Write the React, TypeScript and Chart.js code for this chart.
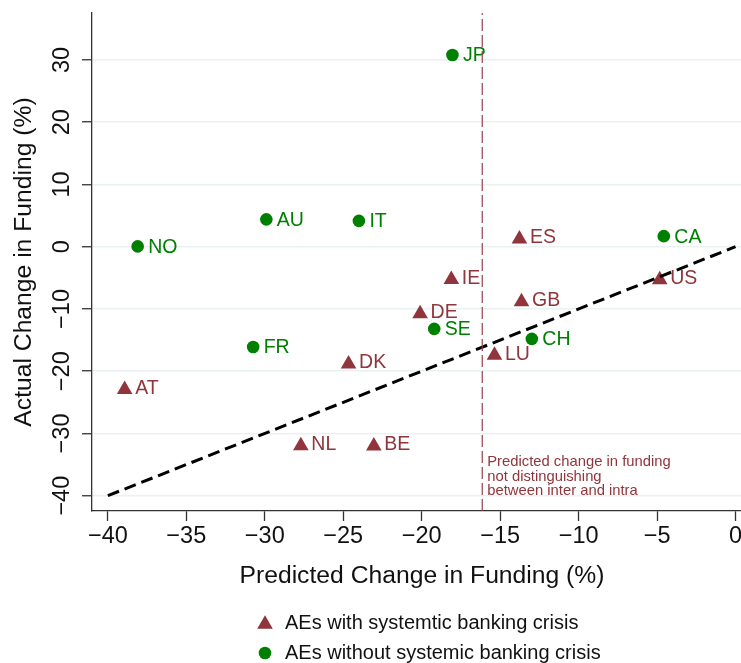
import React, { useEffect, useRef } from "react";
import { Chart, registerables } from "chart.js";

Chart.register(...registerables);

// ---- data ----
const crisisNames = ["ES", "IE", "US", "GB", "DE", "LU", "DK", "AT", "NL", "BE"];
const crisisX = [-13.77, -18.11, -4.83, -13.64, -20.1, -15.36, -24.66, -38.93, -27.7, -23.05];
const crisisY = [1.25, -5.25, -5.3, -8.85, -10.75, -17.45, -18.86, -22.95, -31.98, -32.0];

const noCrisisNames = ["JP", "AU", "IT", "NO", "CA", "SE", "CH", "FR"];
const noCrisisX = [-18.04, -29.9, -24.0, -38.1, -4.57, -19.2, -12.98, -30.74];
const noCrisisY = [30.8, 4.4, 4.15, 0.05, 1.7, -13.2, -14.8, -16.1];

const diagX = [-40, 0];
const diagY = [-40, 0];
const cutoffX = -16.14;

const xTicks = [-40, -35, -30, -25, -20, -15, -10, -5, 0];
const yTicks = [-40, -30, -20, -10, 0, 10, 20, 30];
const xRange = [-41.01, 0.35];
const yRange = [-42.46, 37.55];

const seriesLabels = ["AEs with systemtic banking crisis", "AEs without systemic banking crisis"];
const noteLines = ["Predicted change in funding", "not distinguishing", "between inter and intra"];
const noteY = -34.64;
const xTitle = "Predicted Change in Funding (%)";
const yTitle = "Actual Change in Funding (%)";

// ---- styles ----
const FONT = '"Liberation Sans", Arial, Helvetica, sans-serif';
const MAROON = "#90353B";
const GREEN = "#008000";
const AXIS = "#333333";
const GRID = "#EAF1F3";

const fmt = (v: number) => (v < 0 ? "\u2212" + Math.abs(v) : String(v));

const textPlugin = {
  id: "customTexts",
  beforeDatasetsDraw(chart: any) {
    const ctx = chart.ctx;
    const xs = chart.scales.x;
    const ys = chart.scales.y;
    ctx.save();
    ctx.font = `19.5px ${FONT}`;
    ctx.textAlign = "left";
    ctx.textBaseline = "middle";
    [0, 1].forEach((di) => {
      const ds = chart.data.datasets[di];
      ctx.fillStyle = ds.backgroundColor;
      const dy = di === 0 ? -1 : 1;
      ds.data.forEach((p: any) => {
        ctx.fillText(p.name, xs.getPixelForValue(p.x) + 10.5, ys.getPixelForValue(p.y) + dy);
      });
    });
    // note next to cutoff line
    ctx.font = `14.8px ${FONT}`;
    ctx.fillStyle = MAROON;
    const nx = xs.getPixelForValue(cutoffX) + 5;
    const ny = ys.getPixelForValue(noteY);
    noteLines.forEach((t, i) => ctx.fillText(t, nx, ny + i * 14.5));
    ctx.restore();
  },
  afterDraw(chart: any) {
    const ctx = chart.ctx;
    const xs = chart.scales.x;
    const ys = chart.scales.y;
    const area = chart.chartArea;
    ctx.save();
    ctx.fillStyle = "#111";
    // x tick labels
    ctx.font = `23.5px ${FONT}`;
    ctx.textAlign = "center";
    ctx.textBaseline = "middle";
    xTicks.forEach((v) => ctx.fillText(fmt(v), xs.getPixelForValue(v), area.bottom + 26));
    // y tick labels (rotated)
    yTicks.forEach((v) => {
      ctx.save();
      ctx.translate(62.5, ys.getPixelForValue(v));
      ctx.rotate(-Math.PI / 2);
      ctx.fillText(fmt(v), 0, 0);
      ctx.restore();
    });
    // axis titles
    ctx.font = `24.7px ${FONT}`;
    ctx.fillText(xTitle, 422, area.bottom + 65);
    ctx.save();
    ctx.translate(24, (area.top + area.bottom) / 2);
    ctx.rotate(-Math.PI / 2);
    ctx.fillText(yTitle, 0, 0);
    ctx.restore();
    // legend
    ctx.font = `20px ${FONT}`;
    ctx.textAlign = "left";
    const lx = 265;
    const rows = [623, 653];
    const r = 9;
    ctx.fillStyle = MAROON;
    ctx.beginPath();
    ctx.moveTo(lx, rows[0] - r * 0.75 - 1);
    ctx.lineTo(lx + r * 0.866, rows[0] + r * 0.75 - 1);
    ctx.lineTo(lx - r * 0.866, rows[0] + r * 0.75 - 1);
    ctx.closePath();
    ctx.fill();
    ctx.fillStyle = GREEN;
    ctx.beginPath();
    ctx.arc(lx, rows[1], 6.3, 0, Math.PI * 2);
    ctx.fill();
    ctx.fillStyle = "#111";
    seriesLabels.forEach((t, i) => ctx.fillText(t, 285, rows[i]));
    ctx.restore();
  },
};

export default function App() {
  const ref = useRef<HTMLCanvasElement | null>(null);

  useEffect(() => {
    if (!ref.current) return;
    const crisisData = crisisNames.map((n, i) => ({ x: crisisX[i], y: crisisY[i], name: n }));
    const noCrisisData = noCrisisNames.map((n, i) => ({ x: noCrisisX[i], y: noCrisisY[i], name: n }));
    const diagData = diagX.map((x, i) => ({ x, y: diagY[i] }));
    const cutData = [
      { x: cutoffX, y: yRange[0] },
      { x: cutoffX, y: yRange[1] },
    ];
    const chart = new Chart(ref.current, {
      type: "scatter",
      data: {
        datasets: [
          {
            label: seriesLabels[0],
            data: crisisData,
            pointStyle: "triangle",
            pointRadius: 9,
            pointBorderWidth: 0,
            backgroundColor: MAROON,
            borderColor: MAROON,
          },
          {
            label: seriesLabels[1],
            data: noCrisisData,
            pointStyle: "circle",
            pointRadius: 6.3,
            pointBorderWidth: 0,
            backgroundColor: GREEN,
            borderColor: GREEN,
          },
          {
            type: "line",
            label: "45",
            data: diagData,
            showLine: true,
            pointRadius: 0,
            borderColor: "#000",
            borderWidth: 3,
            borderDash: [12, 6],
            fill: false,
            order: -1,
          } as any,
          {
            type: "line",
            label: "cutoff",
            data: cutData,
            showLine: true,
            pointRadius: 0,
            borderColor: "#94434B",
            borderWidth: 1.2,
            borderDash: [12, 4],
            fill: false,
            order: -2,
          } as any,
        ],
      },
      options: {
        responsive: false,
        animation: false,
        events: [],
        layout: { autoPadding: false, padding: { top: 13, left: 0, right: 0, bottom: 0 } },
        plugins: { legend: { display: false }, tooltip: { enabled: false } },
        scales: {
          x: {
            type: "linear",
            min: xRange[0],
            max: xRange[1],
            afterBuildTicks: (s: any) => {
              s.ticks = xTicks.map((v) => ({ value: v }));
            },
            afterFit: (s: any) => {
              s.height = 152;
            },
            ticks: { display: false },
            grid: {
              drawOnChartArea: false,
              drawTicks: true,
              tickLength: 10,
              tickColor: AXIS,
              tickWidth: 1.3,
            },
            border: { color: AXIS, width: 1.3 },
          },
          y: {
            type: "linear",
            min: yRange[0],
            max: yRange[1],
            afterBuildTicks: (s: any) => {
              s.ticks = yTicks.map((v) => ({ value: v }));
            },
            afterFit: (s: any) => {
              s.width = 92;
            },
            ticks: { display: false },
            grid: {
              drawOnChartArea: true,
              color: GRID,
              lineWidth: 1.5,
              drawTicks: true,
              tickLength: 10,
              tickColor: AXIS,
              tickWidth: 1.3,
            },
            border: { color: AXIS, width: 1.3 },
          },
        },
      },
      plugins: [textPlugin],
    } as any);
    return () => chart.destroy();
  }, []);

  return (
    <div style={{ position: "absolute", left: 0, top: 0, width: 741, height: 663, background: "#fff" }}>
      <canvas ref={ref} width={741} height={663} style={{ display: "block", width: 741, height: 663 }} />
    </div>
  );
}
